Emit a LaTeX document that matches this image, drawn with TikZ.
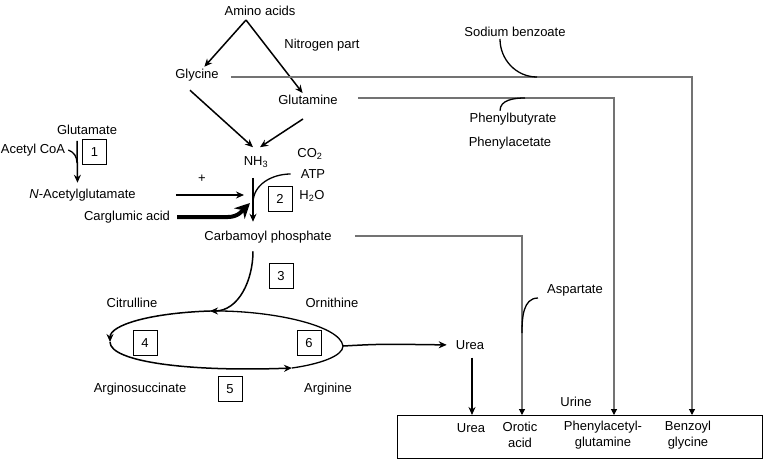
\documentclass[tikz,border=0pt]{standalone}
\usepackage{fontspec}
\setmainfont{Liberation Sans}
\usepackage{tikz}
\usetikzlibrary{arrows.meta,calc}
\tikzset{
  txt/.style={
    inner sep=2pt,
    align=center,
    font=\fontsize{13}{16}\selectfont
  },
  num/.style={
    draw,
    line width=.9pt,
    minimum width=24pt,
    minimum height=25pt,
    inner sep=0pt,
    font=\fontsize{13}{16}\selectfont
  },
  arrow/.style={
    -{Stealth[length=8pt,width=7pt]},
    line width=1.5pt
  },
  hook/.style={
    line width=1.3pt
  },
  feed/.style={
    -{Triangle[length=6pt,width=6pt,color=black]},
    line width=1.1pt,
    black!55
  },
  bold/.style={
    -{Stealth[length=15pt,width=15pt]},
    line width=4pt
  }
}

\begin{document}
\begin{tikzpicture}[x=1pt,y=1pt]
\useasboundingbox (0,0) rectangle (764,-459);
% nitrogen sources
\node[txt] (amino) at (260,-11) {Amino acids};
\node[txt] (nitro) at (322,-45) {Nitrogen part};
\node[txt] (gly) at (197,-75) {Glycine};
\node[txt] (gln) at (308,-100) {Glutamine};
\node[txt] (nh3) at (256,-162) {NH\textsubscript{3}};
\node[txt] (co2) at (310,-154) {CO\textsubscript{2}};
\node[txt] (atp) at (313,-174) {ATP};
\node[txt] (h2o) at (312,-196) {H\textsubscript{2}O};
\node[txt] (glu) at (87,-130) {Glutamate};
\node[txt] (acoa) at (33,-150) {Acetyl CoA};
\node[txt] (nag) at (82.5,-195) {\textit{N}-Acetylglutamate};
\node[txt] (carg) at (127,-217) {Carglumic acid};
\node[txt] (plus) at (202,-179) {+};
\node[txt] (carb) at (268,-237) {Carbamoyl phosphate};
\node[num] (n1) at (94.5,-152) {1};
\node[num] (n2) at (280,-199) {2};
\node[num] (n3) at (281,-276) {3};
% cycle
\node[txt] (cit) at (132,-303) {Citrulline};
\node[txt] (orn) at (332,-303) {Ornithine};
\node[txt] (args) at (140,-389) {Arginosuccinate};
\node[txt] (argn) at (328,-389) {Arginine};
\node[num] (n4) at (145,-343) {4};
\node[num] (n5) at (230,-389) {5};
\node[num] (n6) at (309,-343) {6};
\node[txt] (urea) at (470,-345) {Urea};
% drugs
\node[txt] (sodium) at (515,-32) {Sodium benzoate};
\node[txt] (pbut) at (513,-119) {Phenylbutyrate};
\node[txt] (pace) at (510,-143) {Phenylacetate};
\node[txt] (asp) at (575,-290) {Aspartate};
% urine
\node[txt] (urine) at (576,-402) {Urine};
\node[draw,line width=1pt,minimum width=365pt,minimum height=43pt,inner sep=0pt] (box) at (579.5,-436.5) {};
\node[txt] (u1) at (471,-428) {Urea};
\node[txt] (oro) at (520,-435) {Orotic\\acid};
\node[txt] (pag) at (603,-435) {Phenylacetyl-\\glutamine};
\node[txt] (bzg) at (688,-435) {Benzoyl\\glycine};

\coordinate (split) at (246,-20);
\coordinate (join) at (253,-203);
\coordinate (acj) at (77,-163);
\coordinate (top) at (210,-311);
\coordinate (left) at (110,-342);
\coordinate (bot) at (292,-368);
\coordinate (rt) at (343,-346);
\coordinate (inu) at (472,-415);
\coordinate (ino) at (522,-415);
\coordinate (inp) at (614,-415);
\coordinate (inb) at (692,-415);

\draw[arrow] (split) -- (gly);
\draw[arrow] (split) -- (gln);
\draw[arrow] ([shift={(-7,-7)}]gly.south) -- ([shift={(-3,7)}]nh3.north);
\draw[arrow] ([shift={(-5,-12)}]gln.south) -- ([shift={(4,7)}]nh3.north);
\draw[arrow] ([shift={(-3,-8)}]nh3.south) -- ([shift={(-15,7)}]carb.north);
\draw[hook] ([xshift=-8pt]atp.west) to[out=180,in=90] (join);
\draw[arrow,shorten <=38pt,shorten >=9pt] (nag.east) -- (nag.east -| join);
\draw[bold,shorten <=5pt] (carg.east) -- (228,-217) to[out=0,in=225] ([xshift=-3pt]join);
\draw[arrow] ([shift={(-10,-4)}]glu.south) -- ([shift={(-5,4)}]nag.north);
\draw[hook] ([xshift=1pt]acoa.east) to[out=-20,in=90] (acj);

\draw[arrow] ([shift={(-15,-6)}]carb.south) to[out=-90,in=0] (top);
\draw[arrow] (top) .. controls (150,-313) and (110,-325) .. (left);
\draw[arrow] (left) .. controls (110,-362) and (190,-372) .. (bot);
\draw[hook] (bot) .. controls (320,-364) and (343,-356) .. (rt)
  .. controls (340,-325) and (270,-310) .. (top);
\draw[arrow,shorten >=7pt] (rt) .. controls (380,-344) .. (urea.west);
\draw[arrow,shorten <=6pt] ([xshift=2pt]urea.south) -- (inu);

\draw[feed,shorten <=10pt] ([yshift=-2pt]gly.east) -| (inb);
\draw[feed,shorten <=18pt] ([yshift=2pt]gln.east) -| (inp);
\draw[feed,shorten <=21pt] ([yshift=1pt]carb.east) -| (ino);
\draw[hook] ([xshift=-15pt]sodium.south) to[out=-90,in=180] (537,-77);
\draw[hook] ([xshift=-13pt]pbut.north) to[out=90,in=180] (525,-98);
\draw[hook] ([xshift=-7pt]asp.south west) to[out=180,in=90] (522,-333);
\end{tikzpicture}
\end{document}
